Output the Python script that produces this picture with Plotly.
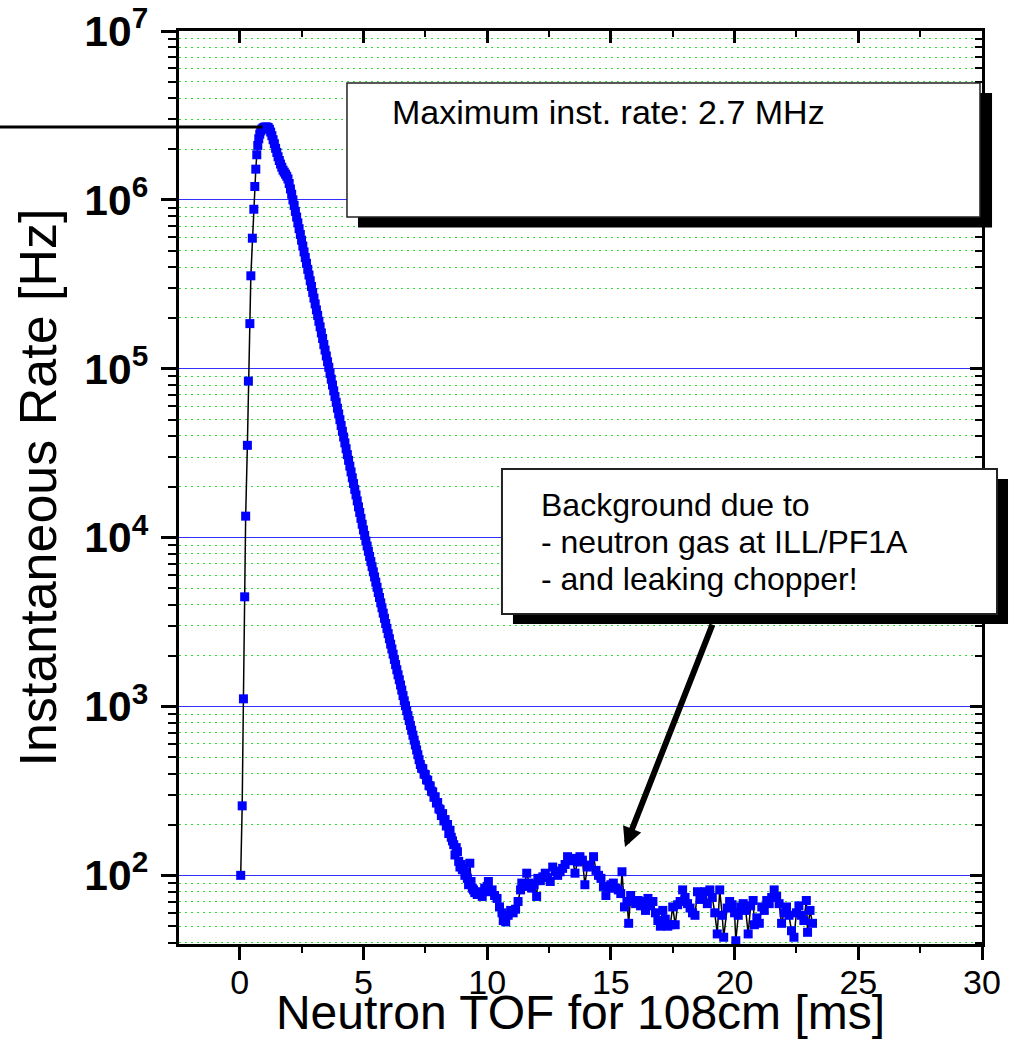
import plotly.graph_objects as go

# ---------------------------------------------------------------------------
# Instantaneous neutron rate vs. time of flight (flight path 108 cm)
# ---------------------------------------------------------------------------

# rising edge of the pulse
rise_t = [0.04, 0.10, 0.15, 0.20, 0.24, 0.31, 0.35, 0.41, 0.45, 0.51, 0.57, 0.61, 0.65, 0.69]
rise_rate = [100, 258, 1110, 4460, 13400, 35200, 84500, 185000, 355000, 593000,
             880000, 1.20e6, 1.52e6, 1.85e6]

# pulse maximum and shoulder
peak_t = [0.73, 0.77, 0.81, 0.85, 0.90, 0.95, 1.00, 1.05, 1.10, 1.15, 1.20, 1.25,
          1.30, 1.35, 1.40, 1.45, 1.50, 1.55, 1.60, 1.65, 1.70, 1.75, 1.80, 1.85,
          1.90, 1.95, 2.00, 2.05, 2.10]
peak_rate = [2.10e6, 2.30e6, 2.45e6, 2.56e6, 2.63e6, 2.67e6, 2.69e6, 2.70e6, 2.70e6,
             2.68e6, 2.62e6, 2.52e6, 2.40e6, 2.27e6, 2.15e6, 2.02e6, 1.91e6, 1.80e6,
             1.71e6, 1.63e6, 1.56e6, 1.50e6, 1.46e6, 1.42e6, 1.38e6, 1.33e6, 1.25e6,
             1.16e6, 1.08e6]

# exponential-like decay of the pulse
decay_t = [2.15, 2.20, 2.25, 2.30, 2.35, 2.40, 2.45, 2.50, 2.55, 2.60, 2.65, 2.70,
           2.75, 2.80, 2.85, 2.90, 2.95, 3.00, 3.05, 3.10, 3.15, 3.20, 3.25, 3.30,
           3.35, 3.40, 3.45, 3.50, 3.55, 3.60, 3.65, 3.70, 3.75, 3.80, 3.85, 3.90,
           3.95, 4.00, 4.05, 4.10, 4.15, 4.20, 4.25, 4.30, 4.35, 4.40, 4.45, 4.50,
           4.55, 4.60, 4.65, 4.70, 4.75, 4.80, 4.85, 4.90, 4.95, 5.00, 5.05, 5.10,
           5.15, 5.20, 5.25, 5.30, 5.35, 5.40, 5.45, 5.50, 5.55, 5.60, 5.65, 5.70,
           5.75, 5.80, 5.85, 5.90, 5.95, 6.00, 6.05, 6.10, 6.15, 6.20, 6.25, 6.30,
           6.35, 6.40, 6.45, 6.50, 6.55, 6.60, 6.65, 6.70, 6.75, 6.80, 6.85, 6.90,
           6.95, 7.00, 7.05, 7.10, 7.15, 7.20, 7.25, 7.30, 7.35, 7.40, 7.45, 7.50,
           7.55, 7.60, 7.65, 7.70, 7.75, 7.80, 7.85, 7.90, 7.95, 8.00, 8.05, 8.10,
           8.15, 8.20, 8.25, 8.30, 8.35, 8.40, 8.45, 8.50]
decay_rate = [1.00e6, 9.27e5, 8.55e5, 7.91e5, 7.31e5, 6.75e5, 6.24e5, 5.77e5, 5.33e5,
              4.92e5, 4.55e5, 4.21e5, 3.88e5, 3.59e5, 3.32e5, 3.07e5, 2.83e5, 2.62e5,
              2.42e5, 2.23e5, 2.07e5, 1.91e5, 1.77e5, 1.63e5, 1.51e5, 1.39e5, 1.29e5,
              1.19e5, 1.10e5, 1.02e5, 9.38e4, 8.67e4, 8.01e4, 7.40e4, 6.84e4, 6.32e4,
              5.84e4, 5.40e4, 4.99e4, 4.61e4, 4.26e4, 3.94e4, 3.64e4, 3.36e4, 3.10e4,
              2.87e4, 2.65e4, 2.45e4, 2.26e4, 2.09e4, 1.93e4, 1.79e4, 1.65e4, 1.52e4,
              1.41e4, 1.30e4, 1.20e4, 1.11e4, 1.03e4, 9550, 8910, 8300, 7740, 7210,
              6730, 6270, 5850, 5450, 5080, 4730, 4420, 4110, 3840, 3570, 3330, 3100,
              2900, 2700, 2520, 2340, 2190, 2040, 1900, 1770, 1650, 1540, 1440, 1340,
              1250, 1160, 1080, 1010, 944, 883, 826, 773, 723, 676, 632, 592, 553, 518,
              484, 453, 431, 428, 398, 395, 368, 366, 340, 338, 315, 312, 290, 292, 268,
              270, 248, 245, 226, 232, 210, 214, 196, 200, 177, 185]

# background region (neutron gas + chopper leakage)
bg_t = [8.55, 8.60, 8.65, 8.70, 8.75, 8.80, 8.85, 8.90, 8.95, 9.00, 9.05, 9.10,
        9.15, 9.20, 9.25, 9.30, 9.35, 9.40, 9.45, 9.50, 9.60, 9.70, 9.80, 9.90,
        10.00, 10.05, 10.10, 10.20, 10.30, 10.40, 10.50, 10.60, 10.65, 10.75, 10.85,
        10.95, 11.05, 11.15, 11.25, 11.35, 11.40, 11.50, 11.60, 11.70, 11.80, 11.90,
        12.00, 12.05, 12.15, 12.25, 12.35, 12.45, 12.55, 12.65, 12.75, 12.85, 12.95,
        13.05, 13.15, 13.25, 13.35, 13.45, 13.55, 13.65, 13.75, 13.85, 13.95, 14.05,
        14.15, 14.30, 14.40, 14.50, 14.60, 14.70, 14.80, 14.90, 15.00, 15.10, 15.20,
        15.30, 15.40, 15.45, 15.55, 15.65, 15.72, 15.80, 15.90, 16.00, 16.10, 16.20,
        16.30, 16.40, 16.50, 16.60, 16.70, 16.80, 16.90, 17.00, 17.10, 17.20, 17.30,
        17.40, 17.50, 17.60, 17.70, 17.80, 17.90, 18.00, 18.10, 18.20, 18.30, 18.40,
        18.50, 18.60, 18.70, 18.80, 18.90, 19.00, 19.10, 19.20, 19.30, 19.40, 19.50,
        19.56, 19.70, 19.80, 19.90, 20.00, 20.05, 20.15, 20.25, 20.35, 20.45, 20.55,
        20.65, 20.75, 20.80, 20.90, 21.00, 21.10, 21.20, 21.30, 21.40, 21.50, 21.60,
        21.70, 21.80, 21.90, 22.00, 22.10, 22.20, 22.30, 22.40, 22.50, 22.60, 22.70,
        22.80, 22.90, 22.95, 23.05, 23.15]
bg_rate = [168, 160, 152, 132, 146, 138, 121, 112, 116, 108, 110, 100,
           104, 96, 88, 118, 92, 84, 82, 79, 77, 80, 75, 84,
           86, 92, 80, 82, 76, 73, 65, 60, 54, 53, 58,
           62, 60, 63, 70, 82, 90, 86, 103, 90, 84, 88,
           75, 96, 93, 98, 103, 97, 92, 112, 106, 100, 105,
           110, 116, 129, 122, 126, 103, 120, 129, 123, 88, 112,
           115, 129, 107, 100, 96, 86, 76, 84, 88, 90, 84,
           82, 78, 105, 65, 70, 52, 76, 71, 68, 71, 66,
           70, 62, 73, 66, 70, 60, 54, 50, 62, 55, 50,
           51, 65, 51, 67, 70, 82, 74, 68, 64, 60, 58,
           80, 72, 76, 80, 68, 82, 74, 60, 45, 82, 58,
           43, 64, 70, 67, 60, 41, 58, 65, 68, 62, 45,
           66, 71, 51, 56, 52, 65, 62, 71, 68, 74, 82,
           75, 68, 52, 60, 65, 58, 47, 43, 60, 66, 58,
           54, 71, 46, 62, 52]

tof_ms = rise_t + peak_t + decay_t + bg_t
rate_hz = rise_rate + peak_rate + decay_rate + bg_rate

max_rate_hz = 2.7e6

x_range = [-2.454, 30.0]
y_range_log = [1.5935, 7.0]

FONT = "Liberation Sans, Arial, sans-serif"

fig = go.Figure()

fig.add_trace(go.Scatter(
    x=tof_ms, y=rate_hz, mode="lines+markers",
    line=dict(color="black", width=1.5),
    marker=dict(symbol="square", size=9, color="#0000ff", line=dict(width=0)),
    showlegend=False, hoverinfo="x+y",
))
# carrier for the mirrored top / right axes
fig.add_trace(go.Scatter(x=[], y=[], xaxis="x2", yaxis="y2",
                         showlegend=False, hoverinfo="skip"))

fig.update_layout(
    template="none",
    width=1019, height=1039,
    margin=dict(l=179, r=37, t=31, b=95, autoexpand=False),
    paper_bgcolor="white", plot_bgcolor="white",
    font=dict(family=FONT, color="black"),
    xaxis=dict(
        range=x_range, automargin=False, showline=True, linewidth=3, linecolor="black",
        ticks="outside", ticklen=13, tickwidth=3, tickcolor="black",
        tick0=0, dtick=5, tickfont=dict(size=34), ticklabelstandoff=-7,
        showgrid=False, zeroline=False,
        minor=dict(ticks="outside", ticklen=6, tickwidth=2, tickcolor="black",
                   tick0=0, dtick=2.5, showgrid=False),
        title=dict(text="Neutron TOF for 108cm [ms]", font=dict(size=48), standoff=0),
    ),
    yaxis=dict(
        type="log", range=y_range_log, automargin=False,
        showline=True, linewidth=3, linecolor="black",
        ticks="outside", ticklen=15, tickwidth=2.5, tickcolor="black",
        dtick=1, exponentformat="power", ticklabelstandoff=6,
        tickfont=dict(size=34, weight="bold"),
        showgrid=True, gridcolor="#3030ff", gridwidth=1.2, zeroline=False,
        minor=dict(ticks="outside", ticklen=8, tickwidth=2, tickcolor="black",
                   dtick="D1", showgrid=True, gridcolor="#30e030",
                   griddash="1.5px,4.5px", gridwidth=1.2),
        title=dict(text="Instantaneous Rate [Hz]", font=dict(size=52), standoff=12),
    ),
    xaxis2=dict(
        overlaying="x", side="top", anchor="y", range=x_range, automargin=False,
        showline=True, linewidth=3, linecolor="black",
        ticks="inside", ticklen=12, tickwidth=3, tickcolor="black",
        tick0=0, dtick=5, showticklabels=False, showgrid=False, zeroline=False,
        minor=dict(ticks="inside", ticklen=6, tickwidth=2, tickcolor="black",
                   tick0=0, dtick=2.5, showgrid=False),
    ),
    yaxis2=dict(
        overlaying="y", side="right", anchor="x", type="log", range=y_range_log,
        automargin=False, showline=True, linewidth=3, linecolor="black",
        ticks="inside", ticklen=12, tickwidth=2.5, tickcolor="black",
        dtick=1, showticklabels=False, showgrid=False, zeroline=False,
        minor=dict(ticks="inside", ticklen=7, tickwidth=2, tickcolor="black",
                   dtick="D1", showgrid=False),
    ),
)

# marker line at the maximum rate
fig.add_shape(type="line", xref="paper", yref="y", x0=-0.223, x1=0.104,
              y0=max_rate_hz, y1=max_rate_hz, line=dict(color="black", width=3),
              layer="above")

# text boxes with drop shadows
fig.add_shape(type="rect", xref="paper", yref="paper", x0=0.2229, x1=1.0125,
              y0=0.7848, y1=0.9321, fillcolor="black", line=dict(width=0), layer="above")
fig.add_shape(type="rect", xref="paper", yref="paper", x0=0.2092, x1=0.9975,
              y0=0.7963, y1=0.9430, fillcolor="white",
              line=dict(color="#222222", width=1.5), layer="above")
fig.add_shape(type="rect", xref="paper", yref="paper", x0=0.4159, x1=1.0324,
              y0=0.3505, y1=0.5093, fillcolor="black", line=dict(width=0), layer="above")
fig.add_shape(type="rect", xref="paper", yref="paper", x0=0.4022, x1=1.0187,
              y0=0.3614, y1=0.5203, fillcolor="white",
              line=dict(color="#222222", width=2), layer="above")

fig.add_annotation(xref="paper", yref="paper", x=0.2628, y=0.9118,
                   xanchor="left", yanchor="middle", showarrow=False,
                   text=f"Maximum inst. rate: {max_rate_hz / 1e6:.1f} MHz",
                   font=dict(size=34))

bg_note = ["Background due to", "- neutron gas at ILL/PF1A", "- and leaking chopper!"]
for line_text, ypos in zip(bg_note, [0.4808, 0.4406, 0.4003]):
    fig.add_annotation(xref="paper", yref="paper", x=0.4483, y=ypos,
                       xanchor="left", yanchor="middle", showarrow=False,
                       text=line_text, font=dict(size=32))

# arrow pointing at the background bump
fig.add_annotation(xref="paper", yref="paper", x=0.5554, y=0.1062, text="",
                   showarrow=True, ax=88, ay=-224, arrowcolor="black",
                   arrowwidth=6, arrowhead=2, arrowsize=0.65, standoff=0)

fig.write_html("out.html")
